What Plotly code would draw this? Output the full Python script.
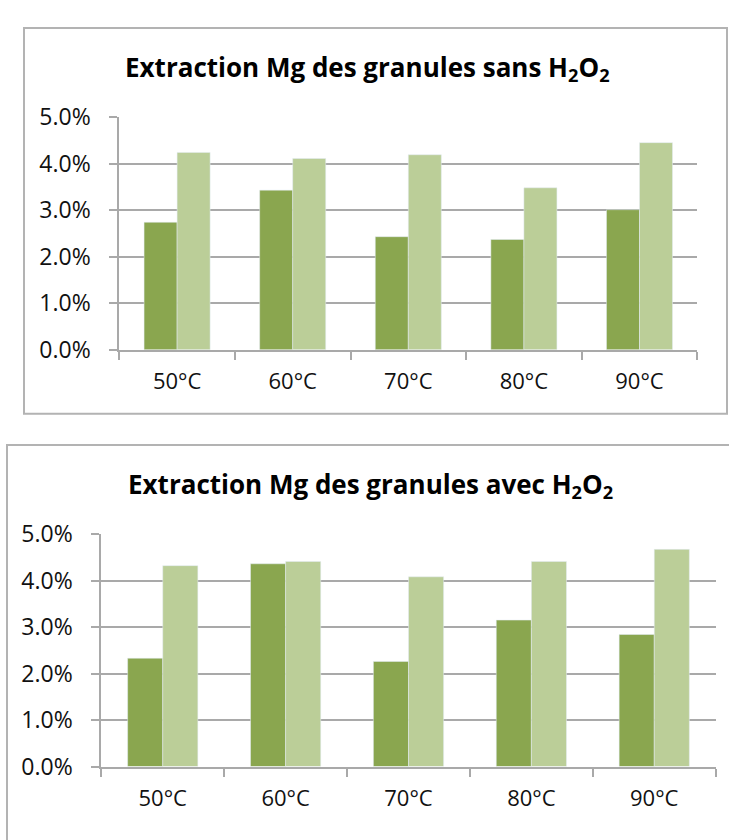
import plotly.graph_objects as go

# Extraction yield of Mg (%) per leaching temperature, two series per chart
categories = ["50°C", "60°C", "70°C", "80°C", "90°C"]
sans_h2o2_a = [2.74, 3.43, 2.43, 2.37, 3.01]
sans_h2o2_b = [4.24, 4.11, 4.19, 3.48, 4.45]
avec_h2o2_a = [2.33, 4.36, 2.26, 3.15, 2.84]
avec_h2o2_b = [4.32, 4.41, 4.08, 4.41, 4.67]
y_ticks = [0, 1, 2, 3, 4, 5]
y_tick_labels = ["0.0%", "1.0%", "2.0%", "3.0%", "4.0%", "5.0%"]

title_top = "Extraction Mg des granules sans H<sub>2</sub>O<sub>2</sub>"
title_bottom = "Extraction Mg des granules avec H<sub>2</sub>O<sub>2</sub>"

W, H = 729, 840
DARK = "#8AA64F"
LIGHT = "#BBCE98"
GRID = "#A9A9A9"
BORDER = "#B3B3B3"
FONT = "Open Sans"


def px(x):
    return x / W


def py(y):
    return 1 - y / H


fig = go.Figure()

fig.add_trace(go.Bar(x=categories, y=sans_h2o2_a, marker_color=DARK,
                     xaxis="x", yaxis="y", showlegend=False))
fig.add_trace(go.Bar(x=categories, y=sans_h2o2_b, marker_color=LIGHT,
                     xaxis="x", yaxis="y", showlegend=False))
fig.add_trace(go.Bar(x=categories, y=avec_h2o2_a, marker_color=DARK,
                     xaxis="x2", yaxis="y2", showlegend=False))
fig.add_trace(go.Bar(x=categories, y=avec_h2o2_b, marker_color=LIGHT,
                     xaxis="x2", yaxis="y2", showlegend=False))

xcommon = dict(
    type="category", showline=True, linecolor=GRID, linewidth=2,
    ticks="outside", tickson="boundaries", ticklen=8, tickwidth=2,
    tickcolor=GRID, showgrid=False, ticklabelstandoff=11,
    tickfont=dict(family=FONT, size=22, color="#111111"),
)
ycommon = dict(
    range=[0, 5], tickvals=y_ticks, ticktext=y_tick_labels,
    showline=True, linecolor=GRID, linewidth=2, ticks="outside",
    ticklen=8, tickwidth=2, tickcolor=GRID, showgrid=True,
    gridcolor=GRID, gridwidth=2, zeroline=False, ticklabelstandoff=14,
    tickfont=dict(family=FONT, size=23, color="#111111"),
)

fig.update_layout(
    width=W, height=H,
    margin=dict(l=0, r=0, t=0, b=0),
    paper_bgcolor="white", plot_bgcolor="white",
    barmode="group", bargap=0.4286, bargroupgap=0,
    xaxis=dict(domain=[px(119.3), px(697.3)], anchor="y", **xcommon),
    yaxis=dict(domain=[py(346), py(104)], anchor="x", **ycommon),
    xaxis2=dict(domain=[px(101.3), px(715.7)], anchor="y2", **xcommon),
    yaxis2=dict(domain=[py(779.3), py(537.5)], anchor="x2", **ycommon),
    shapes=[
        dict(type="rect", xref="paper", yref="paper",
             x0=px(24), x1=px(727), y0=py(412.5), y1=py(11.5),
             line=dict(color=BORDER, width=2), layer="below"),
        dict(type="rect", xref="paper", yref="paper",
             x0=px(7), x1=px(760), y0=py(880), y1=py(445),
             line=dict(color=BORDER, width=2), layer="below"),
    ],
    annotations=[
        dict(text=title_top, xref="paper", yref="paper",
             x=px(368), y=py(53), xanchor="center", yanchor="middle",
             showarrow=False,
             font=dict(family=FONT, size=26, color="black", weight="bold")),
        dict(text=title_bottom, xref="paper", yref="paper",
             x=px(370), y=py(487), xanchor="center", yanchor="middle",
             showarrow=False,
             font=dict(family=FONT, size=26, color="black", weight="bold")),
    ],
)

fig.write_html("out.html")
